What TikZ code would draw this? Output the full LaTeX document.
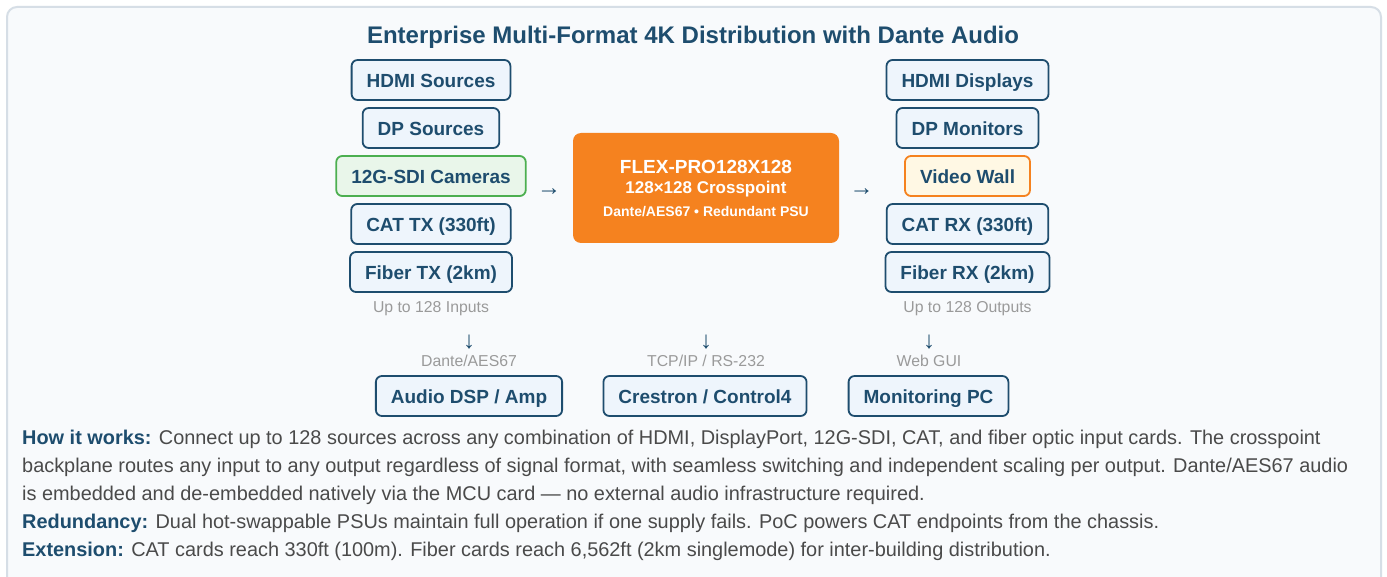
\documentclass[tikz,border=0pt]{standalone}
\usepackage{fontspec}
\setmainfont{Liberation Sans}
\usetikzlibrary{positioning}

\definecolor{navy}{HTML}{1E4D6E}
\definecolor{paleblue}{HTML}{EEF5FC}
\definecolor{framegray}{HTML}{D6DEE6}
\definecolor{panel}{HTML}{F8FAFC}
\definecolor{camgreen}{HTML}{4CAF50}
\definecolor{camfill}{HTML}{E9F6EA}
\definecolor{flexorange}{HTML}{F5821F}
\definecolor{wallfill}{HTML}{FFF8E4}
\definecolor{hint}{HTML}{9A9A9A}
\definecolor{body}{HTML}{4A4A4A}

\begin{document}
\begin{tikzpicture}[x=1pt,y=-1pt,
    card/.style={draw=navy,fill=paleblue,line width=1.8pt,rounded corners=6pt,
      minimum height=40pt,inner xsep=15pt,text height=16pt,text depth=0.5pt,text=navy,
      font=\fontsize{19}{21}\selectfont\bfseries},
    camcard/.style={card,draw=camgreen,fill=camfill},
    wallcard/.style={card,draw=flexorange,fill=wallfill},
    hintlabel/.style={text=hint,text height=12pt,text depth=1pt,
      font=\fontsize{15.8}{18}\selectfont},
    glyph/.style={text=navy,font=\fontsize{24}{26}\selectfont},
    flextext/.style={text=white,inner sep=0pt},
    para/.style={anchor=base west,text=body,inner sep=0pt,
      font=\fontsize{19.9}{22}\selectfont}]

    \useasboundingbox (0,0) rectangle (1387,577);
    \clip (0,0) rectangle (1387,577);
    \fill[white] (0,0) rectangle (1387,577);
    \draw[framegray,fill=panel,line width=2pt,rounded corners=10pt] (7,7) rectangle (1381,620);

    % title
    \node[text=navy,font=\fontsize{24}{26}\selectfont\bfseries] (title) at (693,37)
        {Enterprise Multi-Format 4K Distribution with Dante Audio};

    % inputs
    \node[card] (hdmiin) at (431,80) {HDMI Sources};
    \node[card] (dpin) at (431,128) {DP Sources};
    \node[camcard] (sdiin) at (431,176) {12G-SDI Cameras};
    \node[card] (catin) at (431,224) {CAT TX (330ft)};
    \node[card] (fiberin) at (431,272) {Fiber TX (2km)};
    \node[hintlabel] (inputs) at (431,307) {Up to 128 Inputs};

    % outputs
    \node[card] (hdmiout) at (967.5,80) {HDMI Displays};
    \node[card] (dpout) at (967.5,128) {DP Monitors};
    \node[wallcard] (wall) at (967.5,176) {Video Wall};
    \node[card] (catout) at (967.5,224) {CAT RX (330ft)};
    \node[card] (fiberout) at (967.5,272) {Fiber RX (2km)};
    \node[hintlabel] (outputs) at (967.5,307) {Up to 128 Outputs};

    % matrix
    \node[fill=flexorange,rounded corners=8pt,minimum width=266pt,minimum height=110pt] (flex) at (706,188) {};
    \node[flextext,font=\fontsize{19}{21}\selectfont\bfseries] (flexname) at (706,167) {FLEX-PRO128X128};
    \node[flextext,font=\fontsize{17}{19}\selectfont\bfseries] (flexsize) at (706,189) {128×128 Crosspoint};
    \node[flextext,font=\fontsize{14}{16}\selectfont\bfseries] (flexfeat) at (706,212) {Dante/AES67 • Redundant PSU};

    \node[glyph] (inarrow) at (549,192) {→};
    \node[glyph] (outarrow) at (861.5,192) {→};

    % control side
    \node[glyph] (audioarrow) at (469,342) {↓};
    \node[glyph] (ctrlarrow) at (706,342) {↓};
    \node[glyph] (webarrow) at (929,342) {↓};
    \node[hintlabel] (audiolink) at (469,361) {Dante/AES67};
    \node[hintlabel] (ctrllink) at (706,361) {TCP/IP / RS-232};
    \node[hintlabel] (weblink) at (929,361) {Web GUI};
    \node[card] (dsp) at (469,396) {Audio DSP / Amp};
    \node[card] (crestron) at (705,396) {Crestron / Control4};
    \node[card] (monitor) at (928.5,396) {Monitoring PC};

    % notes
    \node[para] (note1) at (22,444) {{\color{navy}\bfseries How it works:} Connect up to 128 sources across any combination of HDMI, DisplayPort, 12G-SDI, CAT, and fiber optic input cards. The crosspoint};
    \node[para] (note2) at (22,472) {backplane routes any input to any output regardless of signal format, with seamless switching and independent scaling per output. Dante/AES67 audio};
    \node[para] (note3) at (22,500) {is embedded and de-embedded natively via the MCU card — no external audio infrastructure required.};
    \node[para] (note4) at (22,528) {{\color{navy}\bfseries Redundancy:} Dual hot-swappable PSUs maintain full operation if one supply fails. PoC powers CAT endpoints from the chassis.};
    \node[para] (note5) at (22,556) {{\color{navy}\bfseries Extension:} CAT cards reach 330ft (100m). Fiber cards reach 6,562ft (2km singlemode) for inter-building distribution.};
\end{tikzpicture}
\end{document}
